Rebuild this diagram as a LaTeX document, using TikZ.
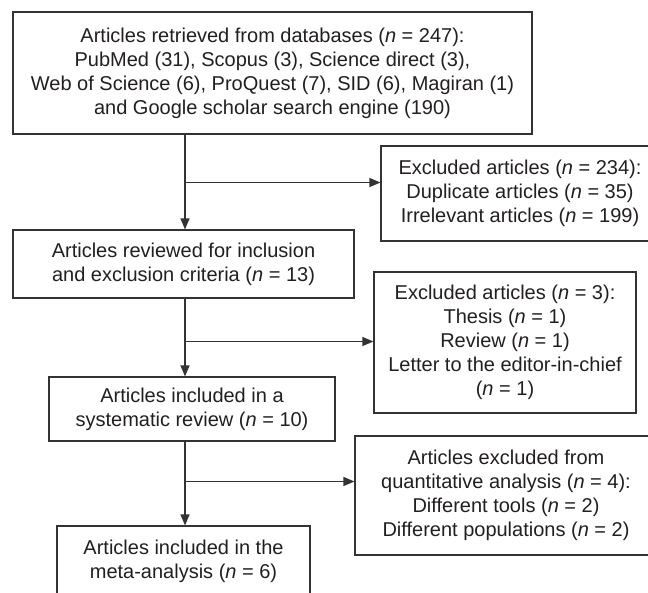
\documentclass[tikz,border=0pt]{standalone}
\usepackage{fontspec}
\setmainfont{Liberation Sans}
\usetikzlibrary{arrows.meta}
\definecolor{txt}{HTML}{231F20}
\definecolor{ln}{HTML}{333333}
\begin{document}
\begin{tikzpicture}[x=1pt,y=-1pt,
  box/.style={draw=ln, line width=1.2pt, text=txt, align=center, inner sep=0pt,
    font=\fontsize{20}{24}\selectfont},
  arr/.style={draw=ln, line width=1.2pt, -{Triangle[length=11pt,width=9pt]}}]
\useasboundingbox (0,0) rectangle (648,592);
\clip (0,0) rectangle (648,592);
\fill[white] (0,0) rectangle (648,592);
\node[box, minimum width=519pt, minimum height=122pt] (b1) at (272.5,73)
  {Articles retrieved from databases (\textit{n} = 247):\\
   PubMed (31), Scopus (3), Science direct (3),\\
   Web of Science (6), ProQuest (7), SID (6), Magiran (1)\\
   and Google scholar search engine (190)};
\node[box, minimum width=278pt, minimum height=95pt] (b2) at (520,193.5)
  {Excluded articles (\textit{n} = 234):\\
   Duplicate articles (\textit{n} = 35)\\
   Irrelevant articles (\textit{n} = 199)};
\node[box, minimum width=341pt, minimum height=68pt] (b3) at (183.5,264)
  {Articles reviewed for inclusion\\
   and exclusion criteria (\textit{n} = 13)};
\node[box, minimum width=262pt, minimum height=141pt] (b4) at (505,342.5)
  {Excluded articles (\textit{n} = 3):\\
   Thesis (\textit{n} = 1)\\
   Review (\textit{n} = 1)\\
   Letter to the editor-in-chief\\
   (\textit{n} = 1)};
\node[box, minimum width=286pt, minimum height=64pt] (b5) at (192,409)
  {Articles included in a\\
   systematic review (\textit{n} = 10)};
\node[box, minimum width=302pt, minimum height=119pt] (b6) at (506,495.5)
  {Articles excluded from\\
   quantitative analysis (\textit{n} = 4):\\
   Different tools (\textit{n} = 2)\\
   Different populations (\textit{n} = 2)};
\node[box, minimum width=253pt, minimum height=70pt] (b7) at (183.5,561)
  {Articles included in the\\
   meta-analysis (\textit{n} = 6)};
\coordinate (j1) at (185,182.5);
\coordinate (j2) at (185,341.5);
\coordinate (j3) at (185,481.5);
\draw[arr] (b1.south -| j1) -- (b3.north -| j1);
\draw[arr] (j1) -- (j1 -| b2.west);
\draw[arr] (b3.south -| j2) -- (b5.north -| j2);
\draw[arr] (j2) -- (j2 -| b4.west);
\draw[arr] (b5.south -| j3) -- (b7.north -| j3);
\draw[arr] (j3) -- (j3 -| b6.west);
\end{tikzpicture}
\end{document}
